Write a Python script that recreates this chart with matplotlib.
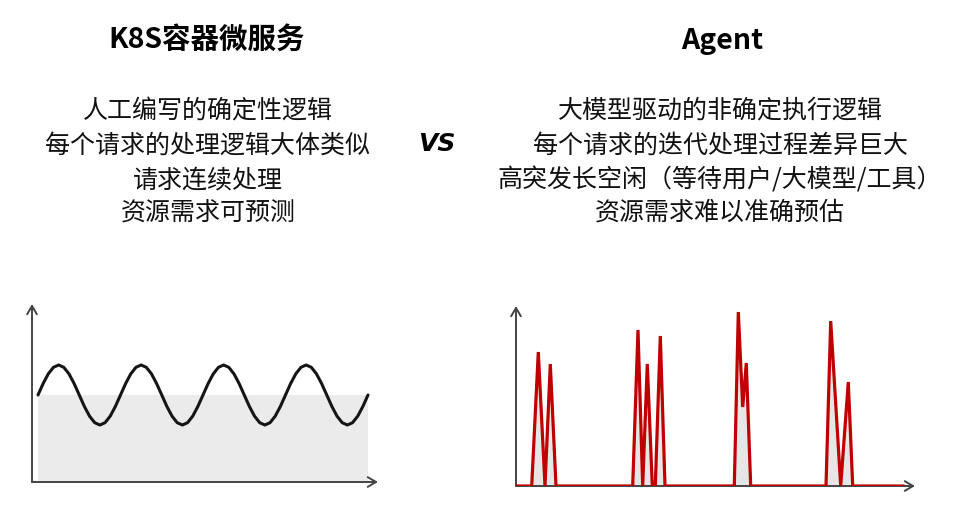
import numpy as np
import matplotlib

matplotlib.use("Agg")
import matplotlib.pyplot as plt

plt.rcParams["font.family"] = ["Noto Sans CJK SC", "DejaVu Sans"]

# ---- text ----
left_title = "K8S容器微服务"
right_title = "Agent"
left_lines = ["人工编写的确定性逻辑", "每个请求的处理逻辑大体类似", "请求连续处理", "资源需求可预测"]
right_lines = ["大模型驱动的非确定执行逻辑", "每个请求的迭代处理过程差异巨大",
               "高突发长空闲（等待用户/大模型/工具）", "资源需求难以准确预估"]

# ---- left chart: steady wave (one period, repeated 4x) ----
wave_period = [87, 98.5, 108.2, 114.7, 117, 114.7, 108.2, 98.5,
               87, 75.5, 65.8, 59.3, 57, 59.3, 65.8, 75.5]
wave_cycles = 4
wave_x0, wave_x1 = 6, 336
baseline_level = 87

# ---- right chart: bursty load (x, height) ----
burst_x = [0, 15.7, 22.3, 29, 34.3, 40,
           116.7, 122, 126.7, 131.3, 136.3, 139.3, 144.3, 149,
           218.3, 222.3, 226.7, 230.3, 234.7,
           310, 314.7, 324.7, 332.3, 336.7, 387]
burst_y = [0, 0, 134, 0, 122, 0,
           0, 156, 0, 122, 0, 0, 150, 0,
           0, 174, 79, 123, 0,
           0, 165, 0, 104, 0, 0]

W, H = 954, 506
fig = plt.figure(figsize=(W / 100, H / 100), dpi=100)


def make_axes(x0, y_axis, x_end, y_top):
    ax = fig.add_axes([x0 / W, (H - y_axis) / H, (x_end - x0) / W, (y_axis - y_top) / H])
    ax.set_xlim(0, x_end - x0)
    ax.set_ylim(0, y_axis - y_top)
    ax.axis("off")
    arrow = dict(arrowstyle="->,head_length=0.6,head_width=0.35", color="#444444", lw=1.4,
                 shrinkA=0, shrinkB=0)
    ax.annotate("", xy=(x_end - x0, 0), xytext=(0, 0), arrowprops=arrow, annotation_clip=False)
    ax.annotate("", xy=(0, y_axis - y_top), xytext=(0, 0), arrowprops=arrow, annotation_clip=False)
    return ax


# left
axl = make_axes(32, 483, 378, 305)
wy = np.append(np.tile(wave_period, wave_cycles), wave_period[0])
wx = np.linspace(wave_x0, wave_x1, len(wy))
axl.fill_between([wave_x0, wave_x1], 0, baseline_level, color="#ebebeb", lw=0, zorder=1)
axl.plot(wx, wy, color="#151515", lw=2.2, zorder=3, solid_capstyle="round")

# right
axr = make_axes(516, 487, 915, 307)
axr.fill_between(burst_x, 0, burst_y, color="#e6e6e6", lw=0, zorder=1)
axr.plot(burst_x, burst_y, color="#c00000", lw=2.3, zorder=3, solid_joinstyle="miter")

# text
fig.text(207 / W, 1 - 40 / H, left_title, ha="center", va="center", fontsize=20.5, fontweight="bold")
fig.text(722 / W, 1 - 41 / H, right_title, ha="center", va="center", fontsize=20.5, fontweight="bold")
line_y = [111, 146, 180, 213]
for s, y in zip(left_lines, line_y):
    fig.text(208 / W, 1 - y / H, s, ha="center", va="center", fontsize=18, color="#111111")
for s, y in zip(right_lines, line_y):
    fig.text(720 / W, 1 - y / H, s, ha="center", va="center", fontsize=18, color="#111111")
fig.text(437 / W, 1 - 144 / H, "VS", ha="center", va="center", fontsize=18,
         fontweight="bold", style="italic", family="DejaVu Sans")

fig.savefig("out.png", dpi=100)
